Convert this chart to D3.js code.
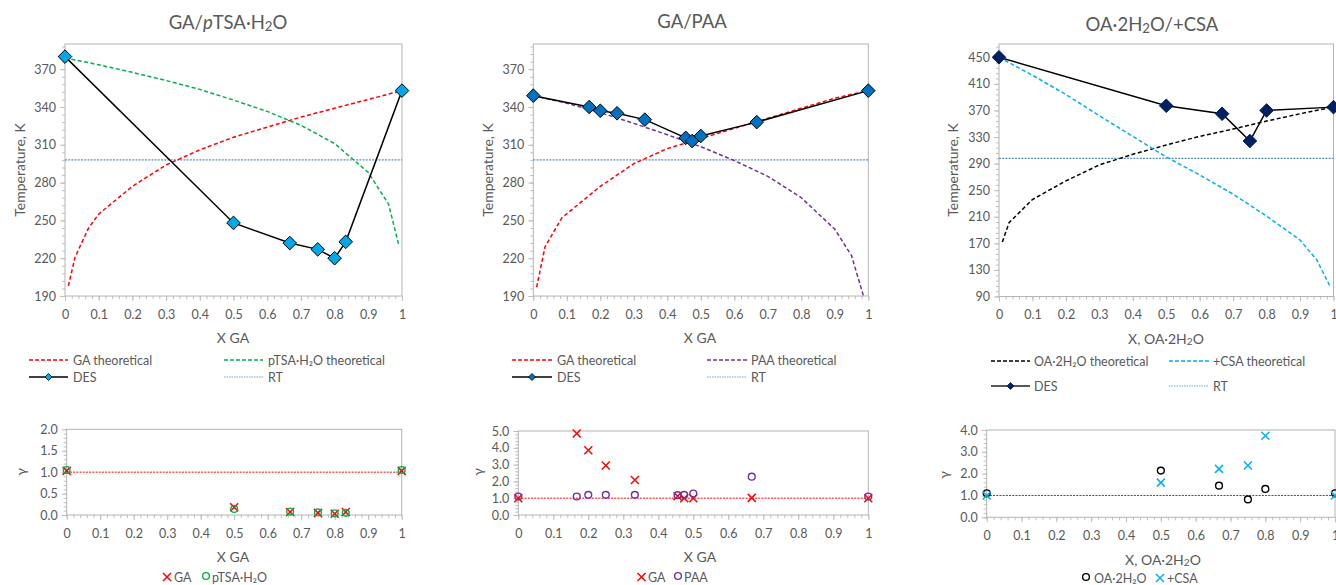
<!DOCTYPE html>
<html><head><meta charset="utf-8">
<script src="https://cdn.jsdelivr.net/npm/d3@7"></script>
<style>
body{margin:0;background:#fff}
svg{display:block}
text{font-family:Lato,'Open Sans',sans-serif;fill:#595959}
</style>
</head><body>
<svg id="c" width="1336" height="585"></svg>
<script>
// ---------- DATA ----------
const xTicks = [0,0.1,0.2,0.3,0.4,0.5,0.6,0.7,0.8,0.9,1];
const tTicksAB = [190,220,250,280,310,340,370];
const tTicksC = [90,130,170,210,250,290,330,370,410,450];
const gTicksA = [0,0.5,1.0,1.5,2.0];
const gTicksB = [0,1,2,3,4,5];
const gTicksC = [0,1,2,3,4];
const RT = 298;

// Panel A: GA / pTSA·H2O
const gaTheoX_A = [0.01,0.03,0.07,0.1,0.2,0.3,0.4,0.5,0.6,0.7,0.8,0.9,1.0];
const gaTheoT_A = [198,221,244,255,277,294,306,316,324,332,339,346,353];
const ptsaTheoX_A = [0,0.1,0.2,0.3,0.4,0.5,0.6,0.7,0.8,0.9,0.96,0.99];
const ptsaTheoT_A = [379,373.5,367.5,361,354,345.5,336.5,325.5,311,288,263,231];
const desX_A = [0,0.5,0.667,0.75,0.8,0.833,1];
const desT_A = [380,248,232,227,220,233,353];
const gamGA_A = [1.03,0.18,0.07,0.05,0.03,0.07,1.03];
const gamPT_A = [1.05,0.14,0.08,0.06,0.04,0.05,1.05];

// Panel B: GA / PAA
const gaTheoX_B = [0.01,0.035,0.085,0.2,0.3,0.4,0.5,0.6,0.7,0.8,0.9,1.0];
const gaTheoT_B = [197,229,252,277,295,307,315,323,331,339,347,353];
const paaTheoX_B = [0,0.1,0.2,0.3,0.4,0.5,0.6,0.7,0.8,0.9,0.95,0.99];
const paaTheoT_B = [349,343,335.5,327,318,308.5,297.5,285,268,243,222,186];
const desX_B = [0,0.167,0.2,0.25,0.333,0.455,0.474,0.5,0.667,1];
const desT_B = [349,340,337,335,330,315.5,313,317,328,353];
const gamGA_B = [1.0,4.85,3.85,2.95,2.08,1.12,1.0,1.0,1.02,1.0];
const gamPAA_B = [1.1,1.1,1.2,1.2,1.2,1.18,1.2,1.28,2.28,1.1];

// Panel C: OA·2H2O / +CSA
const oaTheoX_C = [0.01,0.03,0.1,0.2,0.3,0.4,0.5,0.6,0.7,0.8,0.9,1.0];
const oaTheoT_C = [172,201,236,264,288,304,318,331,342,354,365,375];
const csaTheoX_C = [0,0.1,0.2,0.3,0.4,0.5,0.6,0.7,0.8,0.9,0.95,0.99];
const csaTheoT_C = [450,423,394,362,331,300,273,244,211,175,145,105];
const desX_C = [0,0.5,0.667,0.75,0.8,1];
const desT_C = [450,377,365,324,370,375];
const gamOA_C = [1.1,2.14,1.45,0.82,1.3,1.1];
const gamCSA_C = [1.0,1.59,2.22,2.37,3.74,1.0];

// ---------- DRAWING ----------
const svg = d3.select('#c');
const fmtX = d => d===0?'0':d===1?'1':d3.format('.1f')(d);
let clipId = 0;

function rich(sel, parts){
  parts.forEach(p=>{
    const t = sel.append('tspan').text(p[0]);
    if(p[1]==='sub') t.attr('font-size','0.72em').attr('baseline-shift','-0.28em');
    if(p[1]==='i') t.attr('font-style','italic');
  });
  return sel;
}

function frame(o){
  const x = d3.scaleLinear().domain([0,1]).range([o.l,o.r]);
  const y = d3.scaleLinear().domain(o.yd).range([o.b,o.t]);
  const g = svg.append('g');
  const minorX = d3.range(0,51).map(i=>i/50);
  const minorY = d3.range(0,Math.floor((o.yd[1]-o.yd[0])/o.ym+1e-6)+1).map(i=>o.yd[0]+i*o.ym);
  const styleAx = s => { s.select('.domain').remove(); s.selectAll('line').attr('stroke','#bfbfbf'); s.selectAll('text').attr('fill','#595959').style('font-size','12.5px').style('font-family','Lato,sans-serif'); };
  g.append('g').attr('transform',`translate(0,${o.b})`).call(d3.axisBottom(x).tickValues(minorX).tickSize(3).tickFormat('')).call(styleAx);
  g.append('g').attr('transform',`translate(0,${o.b})`).call(d3.axisBottom(x).tickValues(xTicks).tickSize(5).tickPadding(o.xpad||9).tickFormat(fmtX)).call(styleAx);
  g.append('g').attr('transform',`translate(${o.l},0)`).call(d3.axisLeft(y).tickValues(minorY).tickSize(3).tickFormat('')).call(styleAx);
  g.append('g').attr('transform',`translate(${o.l},0)`).call(d3.axisLeft(y).tickValues(o.yt).tickSize(5).tickPadding(4).tickFormat(o.yf)).call(styleAx);
  g.append('rect').attr('x',o.l).attr('y',o.t).attr('width',o.r-o.l).attr('height',o.b-o.t)
    .attr('fill','none').attr('stroke','#b4b4b4').attr('stroke-width',1);
  const id = 'clip'+(clipId++);
  svg.append('clipPath').attr('id',id).append('rect').attr('x',o.l).attr('y',o.t).attr('width',o.r-o.l).attr('height',o.b-o.t);
  const pg = svg.append('g').attr('clip-path',`url(#${id})`);
  return {x,y,pg,g:svg.append('g')};
}

function curve(f, xs, ys, color, dash, w){
  const pts = xs.map((d,i)=>[d,ys[i]]);
  f.pg.append('path').datum(pts)
    .attr('d', d3.line().x(d=>f.x(d[0])).y(d=>f.y(d[1])))
    .attr('fill','none').attr('stroke',color).attr('stroke-width',w||1.5)
    .attr('stroke-dasharray',dash||null);
}
function hline(f, v, color, dash){
  f.pg.append('line').attr('x1',f.x(0)).attr('x2',f.x(1)).attr('y1',f.y(v)).attr('y2',f.y(v))
    .attr('stroke',color).attr('stroke-width',1).attr('stroke-dasharray',dash);
}
const diamondPath = r => `M0,${-r}L${r},0L0,${r}L${-r},0Z`;
function diamonds(f, xs, ys, fill, stroke){
  f.g.selectAll(null).data(xs.map((d,i)=>[d,ys[i]])).join('path')
    .attr('d',diamondPath(6.8)).attr('transform',d=>`translate(${f.x(d[0])},${f.y(d[1])})`)
    .attr('fill',fill).attr('stroke',stroke).attr('stroke-width',1);
}
function crossAt(g, cx, cy, color, r){
  r = r||4;
  g.append('path').attr('d',`M${cx-r},${cy-r}L${cx+r},${cy+r}M${cx-r},${cy+r}L${cx+r},${cy-r}`)
    .attr('stroke',color).attr('stroke-width',1.5).attr('fill','none');
}
function circleAt(g, cx, cy, color){
  g.append('circle').attr('cx',cx).attr('cy',cy).attr('r',3.4).attr('fill','none').attr('stroke',color).attr('stroke-width',1.4);
}
function crosses(f, xs, ys, color){ xs.forEach((d,i)=>crossAt(f.g, f.x(d), f.y(ys[i]), color)); }
function circles(f, xs, ys, color){ xs.forEach((d,i)=>circleAt(f.g, f.x(d), f.y(ys[i]), color)); }

function text(x, y, parts, size, anchor, rot){
  const t = svg.append('text').attr('x',x).attr('y',y).attr('font-size',size)
    .attr('text-anchor',anchor||'middle').attr('dominant-baseline','central');
  if(rot) t.attr('transform',`rotate(-90,${x},${y})`);
  return rich(t, parts);
}

function legendLine(x1, x2, y, color, dash, w, marker){
  svg.append('line').attr('x1',x1).attr('x2',x2).attr('y1',y).attr('y2',y)
    .attr('stroke',color).attr('stroke-width',w).attr('stroke-dasharray',dash||null);
  if(marker){
    svg.append('path').attr('d',diamondPath(3.5)).attr('transform',`translate(${(x1+x2)/2},${y})`)
      .attr('fill',marker[0]).attr('stroke',marker[1]).attr('stroke-width',0.8);
  }
}

const fmtT = d=>d3.format('d')(d);
const fmtG = d=>d3.format('.1f')(d);

// ----- Panel A top -----
let f = frame({l:65,r:402,t:44,b:296,yd:[190,390],ym:6,yt:tTicksAB,yf:fmtT});
hline(f, RT, '#2e75b6', '2,1.2');
curve(f, gaTheoX_A, gaTheoT_A, '#ff0000', '4,2.5');
curve(f, ptsaTheoX_A, ptsaTheoT_A, '#00b050', '4,2.5');
curve(f, desX_A, desT_A, '#000000', null, 1.5);
diamonds(f, desX_A, desT_A, '#00a8e8', '#000');
text(228, 22, [['GA/'],['p','i'],['TSA·H'],['2','sub'],['O']], 18.5);
text(19, 170, [['Temperature, K']], 14, 'middle', true);
text(233, 337, [['X GA']], 14);
legendLine(29,68,360,'#ff0000','4,2',1.5); text(73,360,[['GA theoretical']],12.5,'start');
legendLine(224,263,360,'#00b050','4,2',1.5); text(268,360,[['pTSA·H₂O theoretical']],12.5,'start');
legendLine(29,68,377,'#000',null,1.5,['#00a8e8','#000']); text(73,377,[['DES']],12.5,'start');
legendLine(224,263,377,'#9dc3e6','1.5,1',1.5); text(268,377,[['RT']],12.5,'start');

// ----- Panel A bottom -----
f = frame({l:66.7,r:401.7,t:429.3,b:515,yd:[0,2],ym:0.1,yt:gTicksA,yf:fmtG});
hline(f, 1.0, '#ff0000', '2,1.2');
crosses(f, desX_A, gamGA_A, '#ff0000');
circles(f, desX_A, gamPT_A, '#00b050');
text(20, 472, [['γ']], 14, 'middle', true);
text(233, 556, [['X GA']], 14);
crossAt(svg, 167, 577, '#ff0000'); text(174,577,[['GA']],12.5,'start');
circleAt(svg, 206, 576, '#00b050'); text(212,577,[['pTSA·H₂O']],12.5,'start');

// ----- Panel B top -----
f = frame({l:533.3,r:868.3,t:44,b:296,yd:[190,390],ym:6,yt:tTicksAB,yf:fmtT});
hline(f, RT, '#2e75b6', '2,1.2');
curve(f, gaTheoX_B, gaTheoT_B, '#ff0000', '4,2.5');
curve(f, paaTheoX_B, paaTheoT_B, '#7030a0', '4,2.5');
curve(f, desX_B, desT_B, '#000000', null, 1.5);
diamonds(f, desX_B, desT_B, '#0070c0', '#000');
text(692, 21, [['GA/PAA']], 18.5);
text(487, 170, [['Temperature, K']], 14, 'middle', true);
text(700, 337, [['X GA']], 14);
legendLine(512,552,360,'#ff0000','4,2',1.5); text(557,360,[['GA theoretical']],12.5,'start');
legendLine(707,747,360,'#7030a0','4,2',1.5); text(751,360,[['PAA theoretical']],12.5,'start');
legendLine(512,552,377,'#000',null,1.5,['#0070c0','#000']); text(557,377,[['DES']],12.5,'start');
legendLine(707,747,377,'#9dc3e6','1.5,1',1.5); text(751,377,[['RT']],12.5,'start');

// ----- Panel B bottom -----
f = frame({l:518.3,r:868.3,t:431,b:515,yd:[0,5],ym:0.2,yt:gTicksB,yf:fmtG});
hline(f, 1.0, '#ff0000', '2,1.2');
crosses(f, desX_B, gamGA_B, '#ff0000');
circles(f, desX_B, gamPAA_B, '#7030a0');
text(477, 472, [['γ']], 14, 'middle', true);
text(700, 556, [['X GA']], 14);
crossAt(svg, 641.5, 577, '#ff0000'); text(648,577,[['GA']],12.5,'start');
circleAt(svg, 678, 576, '#7030a0'); text(684,577,[['PAA']],12.5,'start');

// ----- Panel C top -----
f = frame({l:999,r:1333.5,t:44,b:296.5,yd:[90,470],ym:8,yt:tTicksC,yf:fmtT});
hline(f, RT, '#2e75b6', '2,1.2');
curve(f, oaTheoX_C, oaTheoT_C, '#000000', '4,2.5');
curve(f, csaTheoX_C, csaTheoT_C, '#00b0f0', '4,2.5');
curve(f, desX_C, desT_C, '#000000', null, 1.5);
diamonds(f, desX_C, desT_C, '#002060', '#002060');
text(1152, 24, [['OA·2H'],['2','sub'],['O/+CSA']], 18.5);
text(952, 170, [['Temperature, K']], 14, 'middle', true);
text(1166, 338, [['X, OA·2H'],['2','sub'],['O']], 14);
legendLine(991,1030,361,'#000','4,2',1.5); text(1034,361,[['OA·2H₂O theoretical']],12.5,'start');
legendLine(1169,1209,361,'#00b0f0','4,2',1.5); text(1213,361,[['+CSA theoretical']],12.5,'start');
legendLine(991,1030,386,'#222',null,1.5,['#002060','#002060']); text(1034,386,[['DES']],12.5,'start');
legendLine(1169,1209,386,'#9dc3e6','1.5,1',1.5); text(1213,386,[['RT']],12.5,'start');

// ----- Panel C bottom -----
f = frame({l:986.7,r:1335,t:430,b:517.3,yd:[0,4],ym:0.2,yt:gTicksC,yf:fmtG});
hline(f, 1.0, '#ff0000', '2,1.2');
circles(f, desX_C, gamOA_C, '#000000');
crosses(f, desX_C, gamCSA_C, '#00b0f0');
text(943, 475, [['γ']], 14, 'middle', true);
text(1163, 559, [['X, OA·2H'],['2','sub'],['O']], 14);
circleAt(svg, 1086, 577, '#000'); text(1094,578,[['OA·2H₂O']],12.5,'start');
crossAt(svg, 1160, 578, '#00b0f0'); text(1167,578,[['+CSA']],12.5,'start');
</script>
</body></html>
